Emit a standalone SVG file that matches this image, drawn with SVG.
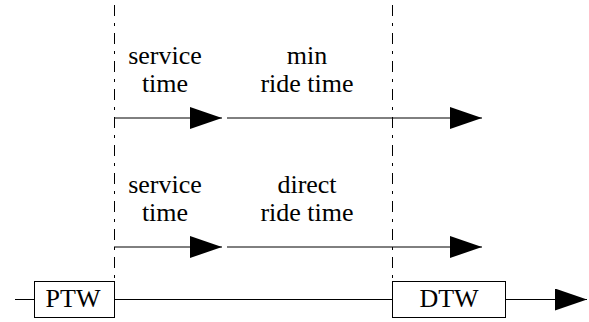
<svg xmlns="http://www.w3.org/2000/svg" width="589" height="322" viewBox="0 0 589 322">
<defs>
<marker id="ah" markerUnits="userSpaceOnUse" markerWidth="33" markerHeight="22" refX="32" refY="11" orient="auto">
<polygon points="0,0 32,11 0,22" fill="#000"/>
</marker>
<style>
.t{font-size:26px;fill:#000;text-anchor:middle}
.ln{stroke:#000;stroke-width:1;fill:none}
.dd{stroke:#000;stroke-width:1;fill:none;stroke-dasharray:11 7 3 7}
.box{fill:#fff;stroke:#000;stroke-width:1}
</style>
</defs>
<rect width="589" height="322" fill="#fff"/>
<g id="guides">
<line class="dd" x1="114.5" y1="5" x2="114.5" y2="281"/>
<line class="dd" x1="392.5" y1="5" x2="392.5" y2="281"/>
</g>
<g id="connectors">
<line class="ln" x1="114" y1="118" x2="222" y2="118" marker-end="url(#ah)"/>
<line class="ln" x1="227" y1="118" x2="482" y2="118" marker-end="url(#ah)"/>
<line class="ln" x1="114" y1="247" x2="222" y2="247" marker-end="url(#ah)"/>
<line class="ln" x1="227" y1="247" x2="482" y2="247" marker-end="url(#ah)"/>
<line class="ln" x1="15" y1="299.5" x2="34" y2="299.5"/>
<line class="ln" x1="114" y1="299.5" x2="392" y2="299.5"/>
<line class="ln" x1="505" y1="299.5" x2="587" y2="299.5" marker-end="url(#ah)"/>
</g>
<g font-family="Liberation Serif, Times New Roman, DejaVu Serif, serif">
<g id="label-service1">
<text class="t" x="165" y="64">service</text>
<text class="t" x="165" y="92">time</text>
</g>
<g id="label-minride">
<text class="t" x="307" y="64">min</text>
<text class="t" x="307" y="92">ride time</text>
</g>
<g id="label-service2">
<text class="t" x="165" y="193">service</text>
<text class="t" x="165" y="221">time</text>
</g>
<g id="label-directride">
<text class="t" x="307" y="193">direct</text>
<text class="t" x="307" y="221">ride time</text>
</g>
<g id="PTW">
<rect class="box" x="34.5" y="281.5" width="80" height="36"/>
<text class="t" x="73" y="307">PTW</text>
</g>
<g id="DTW">
<rect class="box" x="392.5" y="281.5" width="113" height="36"/>
<text class="t" x="449" y="307">DTW</text>
</g>
</g>
</svg>
